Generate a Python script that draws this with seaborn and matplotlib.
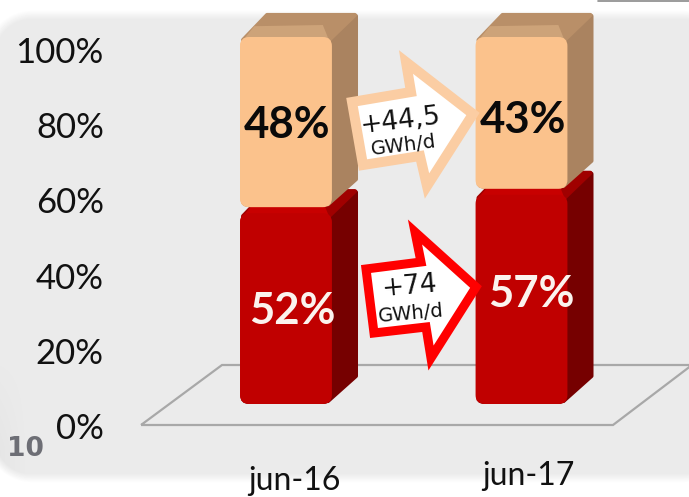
import numpy as np
import matplotlib
matplotlib.use("Agg")
import matplotlib.pyplot as plt
import seaborn as sns
from matplotlib.patches import FancyBboxPatch, Polygon
from matplotlib.transforms import ScaledTranslation

categories = ["jun-16", "jun-17"]
red_values = [52, 57]
peach_values = [48, 43]
y_ticks = [0, 20, 40, 60, 80, 100]
arrow_texts = [("+44,5", "GWh/d"), ("+74", "GWh/d")]
page_number = "10"

W, H = 689, 497
DEPTH_X, DEPTH_Y = 26, 24
PEACH = "#FBC28C"
RED = "#C00000"

sns.set_style("white")
plt.rcParams["font.family"] = ["Lato", "DejaVu Sans"]

fig = plt.figure(figsize=(W / 100, H / 100), dpi=100, facecolor="white")


def full_axes(zorder):
    a = fig.add_axes([0, 0, 1, 1], zorder=zorder)
    a.set_xlim(0, W)
    a.set_ylim(H, 0)
    a.axis("off")
    return a


# slide background, soft edges
bg = full_axes(0)
xx, yy = np.meshgrid(np.arange(W) + 0.5, np.arange(H) + 0.5)
x0, x1, y0, y1 = -14, W + 40, 10, 483
rad = 46
qx = np.maximum(np.maximum(x0 + rad - xx, xx - (x1 - rad)), 0)
qy = np.maximum(np.maximum(y0 + rad - yy, yy - (y1 - rad)), 0)
dist = rad - np.hypot(qx, qy)
edge = np.clip(dist / 9, 0, 1)
grey = 235 - 6 * np.clip(1 - xx / 30, 0, 1) * np.clip((yy - 350) / 100, 0, 1)
shade = 255 - (255 - grey) * edge
bg.imshow(shade, cmap="gray", vmin=0, vmax=255, extent=(0, W, H, 0), aspect="auto")
bg.set_xlim(0, W)
bg.set_ylim(H, 0)
bg.plot([598, W], [0.5, 0.5], color="#8a8a8a", lw=1.2)

# floor of the 3d chart
floor = full_axes(1)
floor.add_patch(Polygon([(141, 425), (613, 425), (692, 365), (222, 365)], closed=True,
                        fill=False, ec="#a8a8a8", lw=1.6))

# bars, scale: 3.67 px per percent from the front base at y=404
ax = fig.add_axes([0, 0, 1, 1], zorder=2)
sns.barplot(x=categories, y=peach_values, color=PEACH, saturation=1, width=0.39, ax=ax)
sns.barplot(x=categories, y=red_values, color=RED, saturation=1, width=0.39, ax=ax)
scale = 3.67
ax.set_xlim((0 - 286) / 235.5, (W - 286) / 235.5)
ax.set_ylim(-(H - 404) / scale, 404 / scale)
ax.axis("off")

px = full_axes(3)


def to_px(x, y):
    disp = ax.transData.transform((x, y))
    return px.transData.inverted().transform(disp)


def face_image(left, right, top, bottom, base, light, dark):
    # front of a block: highlight on top and right, dark at the foot
    w, h = int(right - left), int(bottom - top)
    base, light, dark = [np.array(matplotlib.colors.to_rgb(c)) for c in (base, light, dark)]
    img = np.ones((h, w, 3)) * base
    ys = np.arange(h)[:, None]
    xs = np.arange(w)[None, :]
    hi = np.exp(-((xs - (w - 8)) / 5.0) ** 2) * 0.7 + np.exp(-((ys - 8) / 4.0) ** 2) * 0.7
    lo = np.exp(-((h - 1 - ys) / 3.5) ** 2)
    hi = np.clip(hi, 0, 1)[..., None]
    lo = lo[..., None]
    img = img * (1 - hi) + light * hi
    img = img * (1 - lo) + dark * lo
    return img


def draw_block(rect, front, light, dark, side, top_back, top_front, lift):
    left, bottom = to_px(rect.get_x(), rect.get_y())
    right, top = to_px(rect.get_x() + rect.get_width(), rect.get_y() + rect.get_height())
    bottom -= lift
    dx, dy = DEPTH_X, DEPTH_Y
    px.add_patch(Polygon([(right - 4, bottom - 3), (right - 4, top + 4), (right + dx - 2, top - dy + 3),
                          (right + dx - 2, bottom - dy - 4)],
                         closed=True, fc=side, ec=side, lw=3, joinstyle="round"))
    px.add_patch(Polygon([(left + 3, top + 3), (left + dx + 1, top - dy + 2), (right + dx - 3, top - dy + 2),
                          (right - 3, top + 3)],
                         closed=True, fc=top_back, ec=top_back, lw=3, joinstyle="round"))
    px.add_patch(Polygon([(left + 3, top + 3), (left + dx * 0.55, top - dy * 0.45), (right - dx * 0.35, top - dy * 0.5),
                          (right - 3, top + 3)],
                         closed=True, fc=top_front, ec=top_front, lw=0))
    clip = FancyBboxPatch((left, top), right - left, bottom - top, boxstyle="round,pad=0,rounding_size=9",
                          fc=front, ec="none", transform=px.transData)
    px.add_patch(clip)
    im = px.imshow(face_image(left, right, top, bottom, front, light, dark),
                   extent=(left, right, bottom, top), aspect="auto", interpolation="bilinear")
    im.set_clip_path(clip)
    px.set_xlim(0, W)
    px.set_ylim(H, 0)


for rect, rect_peach in zip(ax.containers[1], ax.containers[0]):
    # peach stacks on the red one
    rect_peach.set_y(rect.get_height())
    draw_block(rect, RED, "#D60000", "#6e0000", "#760000", "#a00000", "#c80000", 0)
    draw_block(rect_peach, PEACH, "#FFD09C", "#B88A5E", "#AA8360", "#B98F68", "#CDA379", 6)
    rect.set_alpha(0)
    rect_peach.set_alpha(0)

# axis labels sit on the floor plane, slightly lower than the bar scale
tax = fig.add_axes([108 / W, (H - 426) / H, (W - 108) / W, 376 / H], zorder=2.5)
tax.patch.set_alpha(0)
tax.set_xlim((108 - 294) / 234, (W - 294) / 234)
tax.set_ylim(0, 100)
tax.set_yticks(y_ticks)
tax.set_yticklabels([f"{t}%" for t in y_ticks], fontsize=25, color="#111111")
tax.set_xticks(range(len(categories)))
tax.set_xticklabels(categories, fontsize=23, color="#111111")
tax.tick_params(axis="both", length=0)
tax.tick_params(axis="x", pad=28.5)
tax.tick_params(axis="y", pad=3)
sns.despine(ax=tax, left=True, bottom=True)
lab = tax.get_xticklabels()[1]
lab.set_transform(lab.get_transform() + ScaledTranslation(0, 3 / 72, fig.dpi_scale_trans))

# value labels
label_pos_red = [(292, 311), (531, 294)]
label_pos_peach = [(287, 125), (523, 120)]
for v, (lx, ly) in zip(red_values, label_pos_red):
    px.text(lx, ly, f"{v}%", color="#fbf3ee", fontsize=31.5, fontweight="bold", ha="center", va="center")
for v, (lx, ly) in zip(peach_values, label_pos_peach):
    px.text(lx, ly, f"{v}%", color="#0a0a0a", fontsize=31.5, fontweight="bold", ha="center", va="center")

# growth arrows
peach_arrow = [(352, 102), (411, 92), (406, 62), (473, 114), (427, 186), (420, 156), (363, 165)]
red_arrow = [(366, 269), (421, 262), (415, 232), (476, 287), (431, 358), (426, 327), (374, 333)]
px.add_patch(Polygon(peach_arrow, closed=True, fc="white", ec="#FBCDA3", lw=7.2, joinstyle="miter"))
px.add_patch(Polygon(red_arrow, closed=True, fc="white", ec="#FF0000", lw=6.5, joinstyle="miter"))

font = ["DejaVu Sans"]
px.text(400, 121, arrow_texts[0][0], fontsize=19, rotation=7, ha="center", va="center", family=font, color="#111111")
px.text(404, 146, arrow_texts[0][1], fontsize=14, rotation=7, ha="center", va="center", family=font, color="#111111")
px.text(409, 287, arrow_texts[1][0], fontsize=19, rotation=5, ha="center", va="center", family=font, color="#111111")
px.text(411, 314, arrow_texts[1][1], fontsize=14, rotation=5, ha="center", va="center", family=font, color="#111111")

px.text(25, 449, page_number, fontsize=19, fontweight="bold", color="#6d6e75", ha="center", va="center", family=font)

fig.savefig("out.png", dpi=100)
